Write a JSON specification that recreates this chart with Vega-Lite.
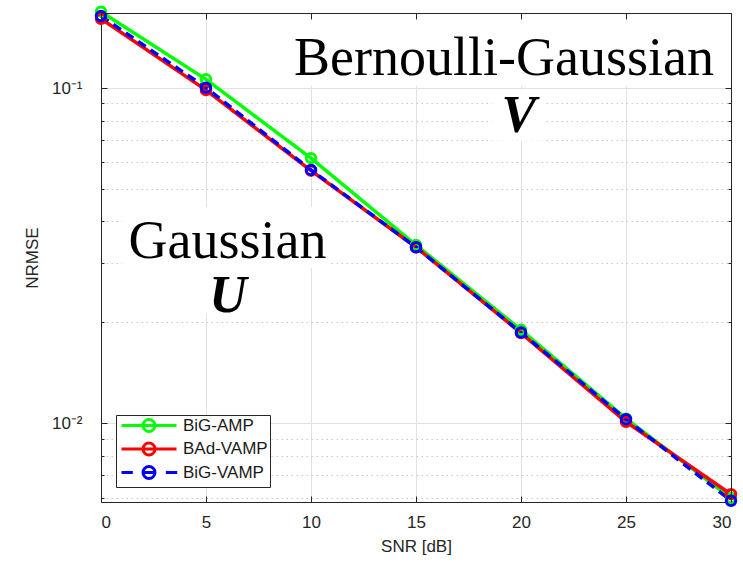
{
  "$schema": "https://vega.github.io/schema/vega-lite/v6.json",
  "width": 630,
  "height": 489,
  "autosize": {"type": "none"},
  "padding": {"left": 101, "top": 13, "right": 12, "bottom": 61},
  "background": "white",
  "config": {
    "view": {"stroke": null},
    "axis": {
      "labelFont": "Liberation Sans",
      "titleFont": "Liberation Sans",
      "labelFontSize": 17,
      "titleFontSize": 17,
      "titleFontWeight": "normal",
      "labelColor": "#262626",
      "titleColor": "#262626",
      "domainColor": "#262626",
      "tickColor": "#262626",
      "gridColor": "#e2e2e2",
      "gridWidth": 1
    },
    "legend": {
      "labelFont": "Liberation Sans",
      "labelFontSize": 17,
      "labelColor": "#1a1a1a",
      "padding": 2,
      "rowPadding": -1.5,
      "symbolSize": 189,
      "symbolStrokeWidth": 3,
      "symbolOffset": 22.5,
      "labelOffset": 25.5,
      "strokeColor": "#262626",
      "fillColor": "white",
      "labelLimit": 200
    }
  },
  "datasets": {
    "perf": [
      {"snr": 0, "nrmse": 0.169, "method": "BiG-AMP"},
      {"snr": 5, "nrmse": 0.1062, "method": "BiG-AMP"},
      {"snr": 10, "nrmse": 0.0618, "method": "BiG-AMP"},
      {"snr": 15, "nrmse": 0.0340, "method": "BiG-AMP"},
      {"snr": 20, "nrmse": 0.0190, "method": "BiG-AMP"},
      {"snr": 25, "nrmse": 0.01032, "method": "BiG-AMP"},
      {"snr": 30, "nrmse": 0.00598, "method": "BiG-AMP"},
      {"snr": 0, "nrmse": 0.161, "method": "BAd-VAMP"},
      {"snr": 5, "nrmse": 0.0986, "method": "BAd-VAMP"},
      {"snr": 10, "nrmse": 0.0567, "method": "BAd-VAMP"},
      {"snr": 15, "nrmse": 0.0335, "method": "BAd-VAMP"},
      {"snr": 20, "nrmse": 0.01858, "method": "BAd-VAMP"},
      {"snr": 25, "nrmse": 0.01010, "method": "BAd-VAMP"},
      {"snr": 30, "nrmse": 0.00614, "method": "BAd-VAMP"},
      {"snr": 0, "nrmse": 0.164, "method": "BiG-VAMP"},
      {"snr": 5, "nrmse": 0.1003, "method": "BiG-VAMP"},
      {"snr": 10, "nrmse": 0.0570, "method": "BiG-VAMP"},
      {"snr": 15, "nrmse": 0.0335, "method": "BiG-VAMP"},
      {"snr": 20, "nrmse": 0.01865, "method": "BiG-VAMP"},
      {"snr": 25, "nrmse": 0.01028, "method": "BiG-VAMP"},
      {"snr": 30, "nrmse": 0.00587, "method": "BiG-VAMP"}
    ],
    "boxes": [
      {"x": 9.14, "x2": 29.8, "y": 0.1016, "y2": 0.1622},
      {"x": 18.62, "x2": 21.14, "y": 0.0696, "y2": 0.0988},
      {"x": 1.0, "x2": 10.9, "y": 0.02908, "y2": 0.0442},
      {"x": 2.33, "x2": 9.71, "y": 0.0212, "y2": 0.02908}
    ],
    "names": [
      {"x": 19.19, "y": 0.1096, "label": "Bernoulli-Gaussian"},
      {"x": 6.02, "y": 0.03113, "label": "Gaussian"}
    ],
    "mats": [
      {"x": 19.9, "y": 0.0741, "label": "V"},
      {"x": 6.05, "y": 0.02149, "label": "U"}
    ]
  },
  "resolve": {"axis": {"x": "independent", "y": "independent"}},
  "layer": [
    {
      "data": {"name": "boxes"},
      "mark": {"type": "rect", "fill": "white", "stroke": null},
      "encoding": {
        "x": {"field": "x", "type": "quantitative", "scale": {"domain": [0, 30], "nice": false, "zero": false}, "axis": null},
        "x2": {"field": "x2"},
        "y": {"field": "y", "type": "quantitative", "scale": {"type": "log", "domain": [0.00582, 0.1675], "nice": false},
          "axis": {"orient": "left", "values": [0.006, 0.007, 0.008, 0.009, 0.02, 0.03, 0.04, 0.05, 0.06, 0.07, 0.08, 0.09],
            "labels": false, "domain": false, "title": null, "grid": true, "gridDash": [1.5, 3.5], "gridColor": "#c8c8c8", "tickSize": -3}},
        "y2": {"field": "y2"}
      }
    },
    {
      "data": {"name": "perf"},
      "transform": [{"filter": "datum.snr < -100"}],
      "mark": {"type": "point", "filled": false, "strokeWidth": 3, "opacity": 1},
      "encoding": {
        "x": {"field": "snr", "type": "quantitative", "axis": null},
        "y": {"field": "nrmse", "type": "quantitative", "axis": null},
        "stroke": {"field": "method", "type": "nominal",
          "scale": {"domain": ["BiG-AMP", "BAd-VAMP", "BiG-VAMP"], "range": ["#00ff00", "#ff0000", "#0000ff"]},
          "legend": {"orient": "bottom-left", "offset": 15, "title": null}},
        "shape": {"field": "method", "type": "nominal",
          "scale": {"domain": ["BiG-AMP", "BAd-VAMP", "BiG-VAMP"], "range": [
            "M-4,0H4M0.87,0A0.87,0.87,0,1,1,-0.87,0A0.87,0.87,0,1,1,0.87,0",
            "M-4,0H4M0.87,0A0.87,0.87,0,1,1,-0.87,0A0.87,0.87,0,1,1,0.87,0",
            "M-4,0H-2.35M2.45,0H4.1M-0.87,0H0.87M0.87,0A0.87,0.87,0,1,1,-0.87,0A0.87,0.87,0,1,1,0.87,0"]},
          "legend": {"orient": "bottom-left", "offset": 15, "title": null}}
      }
    },
    {
      "data": {"name": "perf"},
      "transform": [{"filter": "datum.method !== 'BiG-VAMP'"}],
      "mark": {"type": "line", "strokeWidth": 3.5},
      "encoding": {
        "x": {"field": "snr", "type": "quantitative", "scale": {"domain": [0, 30], "nice": false, "zero": false},
          "axis": {"orient": "bottom", "values": [0, 5, 10, 15, 20, 25, 30], "title": "SNR [dB]", "grid": true, "tickSize": -6, "labelPadding": 18, "titlePadding": 8}},
        "y": {"field": "nrmse", "type": "quantitative", "scale": {"type": "log", "domain": [0.00582, 0.1675], "nice": false},
          "axis": {"orient": "left", "values": [0.01, 0.1], "title": "NRMSE", "grid": true, "tickSize": -6, "labelPadding": 25, "titlePadding": 10,
            "labelExpr": "datum.value > 0.05 ? '10⁻¹' : '10⁻²'"}},
        "stroke": {"field": "method", "type": "nominal"}
      }
    },
    {
      "data": {"name": "perf"},
      "transform": [{"filter": "datum.method === 'BiG-VAMP'"}],
      "mark": {"type": "line", "strokeWidth": 3.5, "strokeDash": [9, 6]},
      "encoding": {
        "x": {"field": "snr", "type": "quantitative", "axis": null},
        "y": {"field": "nrmse", "type": "quantitative", "axis": null},
        "stroke": {"field": "method", "type": "nominal"}
      }
    },
    {
      "data": {"name": "perf"},
      "mark": {"type": "point", "shape": "circle", "filled": false, "strokeWidth": 3, "size": 90, "opacity": 1},
      "encoding": {
        "x": {"field": "snr", "type": "quantitative",
          "axis": {"orient": "top", "values": [0, 5, 10, 15, 20, 25, 30], "labels": false, "title": null, "grid": false, "tickSize": -6, "zindex": 1}},
        "y": {"field": "nrmse", "type": "quantitative",
          "axis": {"orient": "right", "values": [0.01, 0.1], "labels": false, "title": null, "grid": false, "tickSize": -6, "zindex": 1}},
        "stroke": {"field": "method", "type": "nominal"}
      }
    },
    {
      "data": {"name": "names"},
      "mark": {"type": "text", "font": "Liberation Serif", "fontSize": 54, "align": "center", "baseline": "alphabetic", "color": "#000000"},
      "encoding": {
        "x": {"field": "x", "type": "quantitative", "axis": null},
        "y": {"field": "y", "type": "quantitative",
          "axis": {"orient": "right", "values": [0.006, 0.007, 0.008, 0.009, 0.02, 0.03, 0.04, 0.05, 0.06, 0.07, 0.08, 0.09], "labels": false, "domain": false, "title": null, "grid": false, "tickSize": -3, "zindex": 1}},
        "text": {"field": "label"}
      }
    },
    {
      "data": {"name": "mats"},
      "mark": {"type": "text", "font": "Liberation Serif", "fontSize": 52, "fontStyle": "italic", "fontWeight": "bold", "align": "center", "baseline": "alphabetic", "color": "#000000"},
      "encoding": {
        "x": {"field": "x", "type": "quantitative", "axis": null},
        "y": {"field": "y", "type": "quantitative", "axis": null},
        "text": {"field": "label"}
      }
    }
  ]
}
